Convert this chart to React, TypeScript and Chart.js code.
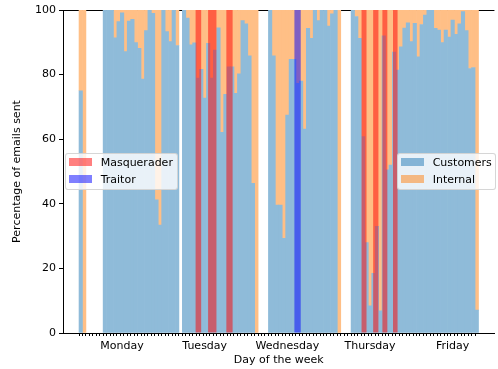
import React, { useEffect, useRef } from "react";
import { Chart, registerables } from "chart.js";

Chart.register(...registerables);

// ---------------- data ----------------
const dayLabels = ["Monday", "Tuesday", "Wednesday", "Thursday", "Friday"];
const dayLabelHours = [12, 36, 60, 84, 108];
const firstTickHour = 0;
const lastTickHour = 115;

// percentage of e-mails sent to customers, per hourly slot (null = no e-mail)
const customers: (number | null)[] = [
  75, 0, null, null, null, null, null, 100, 100, 100,
  91.4, 96.4, 99.1, 87.1, 96.6, 97.1, 89.9, 88.1, 78.6, 93.6,
  100, 99, 41.2, 33.4, 100, 93.3, 90.2, 100, 89, null,
  100, 97.5, 89.2, 89.8, 78.9, 81.6, 72.7, 89.7, 78.9, 87.6,
  94.5, 62.1, 73.9, 82.4, 82.4, 74.2, 80.2, 96.7, 95.7, 85.8,
  46.3, 0, null, null, null, 100, 85.8, 39.6, 39.6, 29.3,
  67.5, 84.7, 84.7, 77.3, 78, 63.1, 94.3, 91.2, 100, 96.7,
  100, 100, 95, 98.8, 100, 0, null, null, null, 100,
  98, 91.2, 60.8, 28, 8.4, 18.5, 33, 6.9, 92, 50.5,
  52, 87, 81.4, 88.6, 94.4, 96, 90.2, 95.9, 85.5, 95.5,
  98.4, 100, 100, 94.3, 93.8, 89.9, 93.8, 91.6, 96.9, 92.5,
  95.7, 99.5, 93.6, 81.9, 82.2, 7.1,
];

// percentage of e-mails sent internally, per hourly slot
const internal: (number | null)[] = [
  25, 100, null, null, null, null, null, 0, 0, 0,
  8.6, 3.6, 0.9, 12.9, 3.4, 2.9, 10.1, 11.9, 21.4, 6.4,
  0, 1, 58.8, 66.6, 0, 6.7, 9.8, 0, 11, null,
  0, 2.5, 10.8, 10.2, 21.1, 18.4, 27.3, 10.3, 21.1, 12.4,
  5.5, 37.9, 26.1, 17.6, 17.6, 25.8, 19.8, 3.3, 4.3, 14.2,
  53.7, 100, null, null, null, 0, 14.2, 60.4, 60.4, 70.7,
  32.5, 15.3, 15.3, 22.7, 22, 36.9, 5.7, 8.8, 0, 3.3,
  0, 0, 5, 1.2, 0, 100, null, null, null, 0,
  2, 8.8, 39.2, 72, 91.6, 81.5, 67, 93.1, 8, 49.5,
  48, 13, 18.6, 11.4, 5.6, 4, 9.8, 4.1, 14.5, 4.5,
  1.6, 0, 0, 5.7, 6.2, 10.1, 6.2, 8.4, 3.1, 7.5,
  4.3, 0.5, 6.4, 18.1, 17.8, 92.9,
];

// anomalous activity periods, [start hour, end hour]
const masqueraderSpans: [number, number][] = [
  [33.35, 34.97],
  [36.98, 39.4],
  [42.28, 44.1],
  [81.54, 82.98],
  [84.91, 86.44],
  [87.59, 89.03],
  [90.67, 92.0],
];
const traitorSpans: [number, number][] = [[62.04, 63.88]];

const yTickStep = 20;

// ---------------- styles ----------------
const FONT = '"DejaVu Sans", sans-serif';
const customersColor = "#8fbbd9";
const internalColor = "#ffbf86";
const customersLegendColor = "rgba(31,119,180,0.5)";
const internalLegendColor = "rgba(255,127,14,0.5)";
const masqColor = "rgba(255,0,0,0.5)";
const traitorColor = "rgba(0,0,255,0.5)";

const X_MIN = -5.155;
const X_MAX = 120.13;

function hourPx(chart: any): number {
  const s = chart && chart.scales && chart.scales.x;
  if (!s || !s.width) return 3.47;
  return Math.abs(s.getPixelForValue(1) - s.getPixelForValue(0));
}
function spanPx(chart: any, span: [number, number]): number {
  const s = chart && chart.scales && chart.scales.x;
  if (!s || !s.width) return (span[1] - span[0]) * 3.47;
  return Math.abs(s.getPixelForValue(span[1]) - s.getPixelForValue(span[0]));
}

function toPoints(values: (number | null)[]) {
  const pts: { x: number; y: number }[] = [];
  values.forEach((v, i) => {
    if (v !== null && v > 0) pts.push({ x: i, y: v });
  });
  return pts;
}

function buildDatasets(): any[] {
  const sets: any[] = [
    {
      label: "Customers",
      data: toPoints(customers),
      backgroundColor: customersColor,
      stack: "mail",
      order: 8,
      grouped: false,
      borderWidth: 0,
      barThickness: (ctx: any) => hourPx(ctx.chart),
    },
    {
      label: "Internal",
      data: toPoints(internal),
      backgroundColor: internalColor,
      stack: "mail",
      order: 9,
      grouped: false,
      borderWidth: 0,
      barThickness: (ctx: any) => hourPx(ctx.chart),
    },
  ];
  masqueraderSpans.forEach((span, k) => {
    sets.push({
      label: "Masquerader",
      data: [{ x: (span[0] + span[1]) / 2, y: 100 }],
      backgroundColor: masqColor,
      stack: "masq" + k,
      order: 1,
      grouped: false,
      borderWidth: 0,
      inflateAmount: 0,
      barThickness: (ctx: any) => spanPx(ctx.chart, span),
    });
  });
  traitorSpans.forEach((span, k) => {
    sets.push({
      label: "Traitor",
      data: [{ x: (span[0] + span[1]) / 2, y: 100 }],
      backgroundColor: traitorColor,
      stack: "traitor" + k,
      order: 0,
      grouped: false,
      borderWidth: 0,
      inflateAmount: 0,
      barThickness: (ctx: any) => spanPx(ctx.chart, span),
    });
  });
  return sets;
}

const legendLeft = [
  { label: "Masquerader", color: masqColor },
  { label: "Traitor", color: traitorColor },
];
const legendRight = [
  { label: "Customers", color: customersLegendColor },
  { label: "Internal", color: internalLegendColor },
];

function LegendBox(props: { items: { label: string; color: string }[]; left: number; top: number; width: number }) {
  const { items, left, top, width } = props;
  return (
    <div
      style={{
        position: "absolute",
        left,
        top,
        width,
        height: 37,
        boxSizing: "border-box",
        border: "1px solid rgba(204,204,204,0.8)",
        borderRadius: 3,
        background: "rgba(255,255,255,0.8)",
        fontFamily: FONT,
        fontSize: 11,
        color: "#000",
      }}
    >
      {items.map((it, k) => (
        <React.Fragment key={k}>
          <div
            style={{
              position: "absolute",
              left: 2.5,
              top: 4.3 + k * 16.7,
              width: 23,
              height: 8,
              background: it.color,
            }}
          />
          <div
            style={{
              position: "absolute",
              left: 34.7,
              top: 2 + k * 16.7,
              lineHeight: "13px",
              whiteSpace: "nowrap",
            }}
          >
            {it.label}
          </div>
        </React.Fragment>
      ))}
    </div>
  );
}

export default function App() {
  const canvasRef = useRef<HTMLCanvasElement>(null);

  useEffect(() => {
    if (!canvasRef.current) return;
    const font = { family: FONT, size: 11 };
    const chart = new Chart(canvasRef.current, {
      type: "bar",
      data: { datasets: buildDatasets() },
      options: {
        responsive: false,
        animation: false,
        devicePixelRatio: 1,
        layout: { padding: { top: 10, left: 0, right: 0, bottom: 0 } },
        plugins: { legend: { display: false }, tooltip: { enabled: false } },
        scales: {
          x: {
            type: "linear",
            position: "bottom",
            min: X_MIN,
            max: X_MAX,
            offset: false,
            ticks: {
              stepSize: 1,
              autoSkip: false,
              includeBounds: false,
              maxRotation: 0,
              minRotation: 0,
              padding: 4,
              color: "#000",
              font,
              callback: (v: any) => {
                const i = dayLabelHours.findIndex((h) => Math.abs(h - Number(v)) < 1e-6);
                return i >= 0 ? dayLabels[i] : "";
              },
            },
            grid: {
              drawOnChartArea: false,
              drawTicks: true,
              tickLength: 3,
              tickWidth: 1,
              tickColor: (ctx: any) => {
                const v = ctx.tick ? ctx.tick.value : NaN;
                return v >= firstTickHour - 1e-6 && v <= lastTickHour + 1e-6 ? "#000" : "rgba(0,0,0,0)";
              },
            },
            border: { display: true, color: "#000", width: 1 },
            title: {
              display: true,
              text: "Day of the week",
              color: "#000",
              font,
              padding: { top: 0, bottom: 2 },
            },
            afterFit: (s: any) => {
              s.height = 36;
            },
          } as any,
          y: {
            type: "linear",
            stacked: true,
            min: 0,
            max: 100,
            ticks: { stepSize: yTickStep, padding: 3, color: "#000", font },
            grid: {
              drawOnChartArea: true,
              drawTicks: true,
              tickLength: 4,
              lineWidth: 1,
              color: (ctx: any) => (ctx.tick && ctx.tick.value === 100 ? "#000" : "rgba(0,0,0,0)"),
              tickColor: "#000",
            },
            border: { display: true, color: "#000", width: 1 },
            title: {
              display: true,
              text: "Percentage of emails sent",
              color: "#000",
              font,
              padding: { top: 11, bottom: 0 },
            },
            afterFit: (s: any) => {
              s.width = 63;
            },
          } as any,
        },
      } as any,
    });
    return () => chart.destroy();
  }, []);

  return (
    <div style={{ position: "absolute", left: 0, top: 0, width: 498, height: 369, background: "#fff" }}>
      <canvas ref={canvasRef} width={498} height={369} style={{ display: "block", width: 498, height: 369 }} />
      <LegendBox items={legendLeft} left={65} top={153} width={113} />
      <LegendBox items={legendRight} left={397} top={153} width={99} />
    </div>
  );
}
